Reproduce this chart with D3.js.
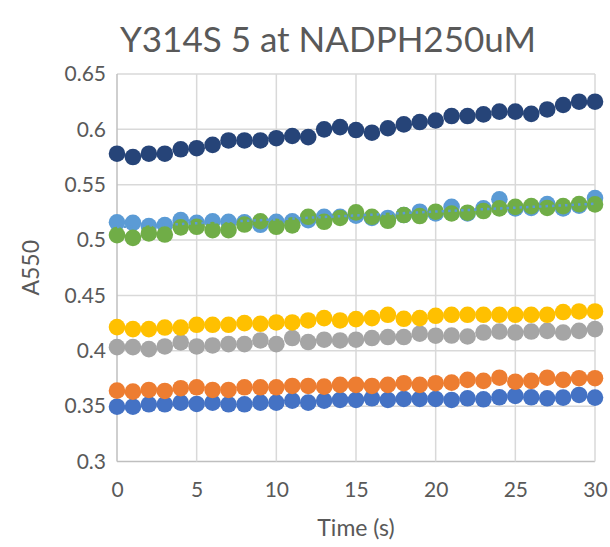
<!DOCTYPE html>
<html>
<head>
<meta charset="utf-8">
<script src="https://cdn.jsdelivr.net/npm/d3@7"></script>
<style>
  html, body { margin: 0; padding: 0; background: #ffffff; }
  svg text { font-family: Lato, "Open Sans", sans-serif; fill: #595959; }
</style>
</head>
<body>
<svg id="chart" width="610" height="547"></svg>
<script>
// Time points (s)
const times = d3.range(0, 31);

// Absorbance at 550 nm, one array per well
const wellBlue = [0.3495,0.3495,0.3517,0.3517,0.3532,0.3520,0.3532,0.3517,0.3517,0.3532,0.3532,0.3550,0.3532,0.3550,0.3556,0.3556,0.3571,0.3556,0.3565,0.3565,0.3565,0.3556,0.3571,0.3562,0.3580,0.3592,0.3580,0.3571,0.3577,0.3601,0.3577];
const wellOrange = [0.3640,0.3631,0.3646,0.3637,0.3662,0.3670,0.3646,0.3646,0.3670,0.3670,0.3670,0.3682,0.3682,0.3676,0.3692,0.3692,0.3682,0.3692,0.3707,0.3692,0.3707,0.3712,0.3737,0.3728,0.3757,0.3721,0.3728,0.3757,0.3737,0.3752,0.3752];
const wellGray = [0.4033,0.4033,0.4015,0.4039,0.4075,0.4039,0.4048,0.4060,0.4060,0.4093,0.4060,0.4115,0.4079,0.4100,0.4093,0.4100,0.4115,0.4124,0.4124,0.4154,0.4136,0.4138,0.4129,0.4165,0.4174,0.4165,0.4174,0.4180,0.4165,0.4180,0.4196];
const wellYellow = [0.4214,0.4196,0.4196,0.4210,0.4210,0.4235,0.4235,0.4235,0.4250,0.4244,0.4256,0.4256,0.4274,0.4295,0.4274,0.4286,0.4295,0.4325,0.4289,0.4295,0.4316,0.4325,0.4325,0.4325,0.4325,0.4325,0.4325,0.4325,0.4350,0.4355,0.4355];
const wellLightBlue = [0.5160,0.5156,0.5127,0.5136,0.5180,0.5156,0.5170,0.5165,0.5160,0.5138,0.5165,0.5170,0.5180,0.5210,0.5210,0.5220,0.5200,0.5200,0.5226,0.5256,0.5240,0.5300,0.5240,0.5286,0.5368,0.5286,0.5290,0.5325,0.5286,0.5310,0.5380];
const wellGreen = [0.5045,0.5020,0.5060,0.5050,0.5115,0.5120,0.5090,0.5090,0.5140,0.5170,0.5120,0.5133,0.5210,0.5165,0.5200,0.5250,0.5210,0.5174,0.5226,0.5217,0.5256,0.5240,0.5247,0.5262,0.5286,0.5300,0.5307,0.5290,0.5307,0.5325,0.5322];
const wellNavy = [0.5780,0.5750,0.5780,0.5780,0.5820,0.5830,0.5860,0.5900,0.5900,0.5900,0.5920,0.5940,0.5930,0.6000,0.6020,0.5994,0.5970,0.6010,0.6045,0.6066,0.6080,0.6120,0.6120,0.6135,0.6160,0.6160,0.6140,0.6180,0.6220,0.6250,0.6250];

const seriesValues = [wellBlue, wellOrange, wellGray, wellYellow, wellLightBlue, wellGreen, wellNavy];
const seriesColors = ["#4472c4", "#ed7d31", "#a5a5a5", "#ffc000", "#5b9bd5", "#70ad47", "#264478"];

const xTicks = [0, 5, 10, 15, 20, 25, 30];
const yTicks = [0.3, 0.35, 0.4, 0.45, 0.5, 0.55, 0.6, 0.65];

const titleText = "Y314S 5 at NADPH250uM";
const xTitle = "Time (s)";
const yTitle = "A550";

const svg = d3.select("#chart");
const plot = { left: 117, right: 595, top: 74, bottom: 461.5 };

const x = d3.scaleLinear().domain([0, 30]).range([plot.left, plot.right]);
const y = d3.scaleLinear().domain([0.3, 0.65]).range([plot.bottom, plot.top]);

// Gridlines
const grid = svg.append("g");
grid.selectAll("line.h").data(yTicks).join("line")
  .attr("x1", plot.left).attr("x2", plot.right)
  .attr("y1", d => y(d)).attr("y2", d => y(d))
  .attr("stroke", d => d === 0.3 ? "#bfbfbf" : "#d9d9d9").attr("stroke-width", 1.5);
grid.selectAll("line.v").data(xTicks).join("line")
  .attr("y1", plot.top).attr("y2", plot.bottom)
  .attr("x1", d => x(d)).attr("x2", d => x(d))
  .attr("stroke", d => d === 0 ? "#bfbfbf" : "#d9d9d9").attr("stroke-width", 1.5);

// Axes (labels only; lines come from the grid)
const yAxis = d3.axisLeft(y).tickValues(yTicks).tickSize(0).tickPadding(11)
  .tickFormat(d => String(+d.toFixed(2)));
svg.append("g").attr("transform", `translate(${plot.left},0)`).call(yAxis)
  .call(g => g.select(".domain").remove())
  .selectAll("text").style("font-size", "21px").style("font-family", "Lato, 'Open Sans', sans-serif").attr("fill", "#595959");

const xAxis = d3.axisBottom(x).tickValues(xTicks).tickSize(0).tickPadding(21);
svg.append("g").attr("transform", `translate(0,${plot.bottom})`).call(xAxis)
  .call(g => g.select(".domain").remove())
  .selectAll("text").style("font-size", "21px").style("font-family", "Lato, 'Open Sans', sans-serif").attr("fill", "#595959");

// Data markers
seriesValues.forEach((vals, si) => {
  svg.append("g").selectAll("circle").data(vals).join("circle")
    .attr("cx", (d, i) => x(times[i]))
    .attr("cy", d => y(d))
    .attr("r", 8.3)
    .attr("fill", seriesColors[si]);
});

// Linear trendline for the light-blue well
const lb = wellLightBlue;
const mx = d3.mean(times), my = d3.mean(lb);
const slope = d3.sum(times, (t, i) => (t - mx) * (lb[i] - my)) / d3.sum(times, t => (t - mx) * (t - mx));
const intercept = my - slope * mx;
svg.append("line")
  .attr("x1", x(0)).attr("y1", y(intercept))
  .attr("x2", x(30)).attr("y2", y(intercept + slope * 30))
  .attr("stroke", "#5b9bd5").attr("stroke-width", 2.5)
  .attr("stroke-dasharray", "2.5 4");

// Titles
svg.append("text").attr("x", 328).attr("y", 52).attr("text-anchor", "middle")
  .style("font-size", "35px").text(titleText);
svg.append("text").attr("x", x(15)).attr("y", 536).attr("text-anchor", "middle")
  .style("font-size", "23px").text(xTitle);
svg.append("text").attr("transform", `translate(39,${(plot.top + plot.bottom) / 2}) rotate(-90)`)
  .attr("text-anchor", "middle").style("font-size", "23px").text(yTitle);
</script>
</body>
</html>
